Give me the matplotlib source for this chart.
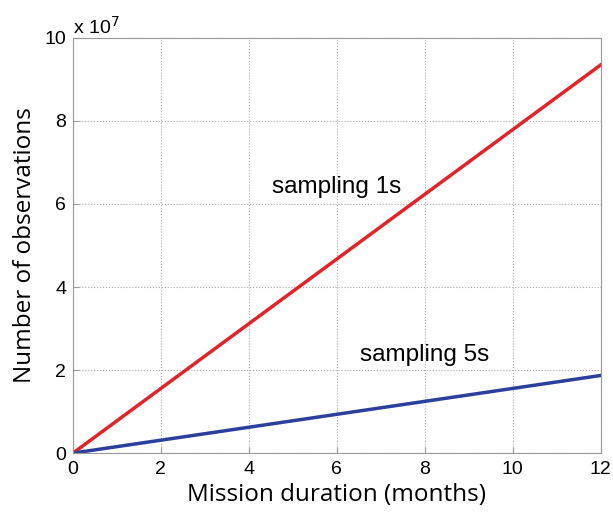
import matplotlib.pyplot as plt
from matplotlib.ticker import FuncFormatter

# mission duration (months) and number of observations
months = [0, 12]
obs_1s = [0, 9.35e7]
obs_5s = [0, 1.87e7]

plt.rcParams['font.family'] = ['Liberation Sans', 'DejaVu Sans']

fig = plt.figure(figsize=(6.13, 5.12), dpi=100)
ax = fig.add_axes([0.119, 0.115, 0.861, 0.811])

ax.plot(months, obs_1s, color="#e0252a", linewidth=2.5)
ax.plot(months, obs_5s, color="#2b3f9e", linewidth=2.5)

ax.text(6.0, 6.41e7, "sampling 1s", fontsize=17.5, ha="center", va="center")
ax.text(8.0, 2.36e7, "sampling 5s", fontsize=17.5, ha="center", va="center")

ax.set_xlim(0, 12)
ax.set_ylim(0, 1e8)
ax.set_xticks(range(0, 13, 2))
ax.set_yticks([i * 2e7 for i in range(6)])
ax.yaxis.set_major_formatter(FuncFormatter(lambda v, p: "%g" % (v / 1e7)))
ax.text(0.0, 1.0, "x 10$^{7}$", transform=ax.transAxes,
        fontsize=14, ha="left", va="bottom")

ax.grid(True, linestyle=":", color="#aaaaaa", linewidth=0.8)
for s in ax.spines.values():
    s.set_color("#999999")
ax.tick_params(axis="both", which="major", labelsize=14, direction="in",
               color="#999999", length=4)
ax.tick_params(axis="x", pad=6)
ax.tick_params(axis="y", pad=5)

ax.set_xlabel("Mission duration (months)", fontsize=17.5, family=["Open Sans", "DejaVu Sans"], labelpad=3)
ax.set_ylabel("Number of observations", fontsize=17.5, family=["Open Sans", "DejaVu Sans"], labelpad=5)

plt.savefig("out.png", dpi=100)
